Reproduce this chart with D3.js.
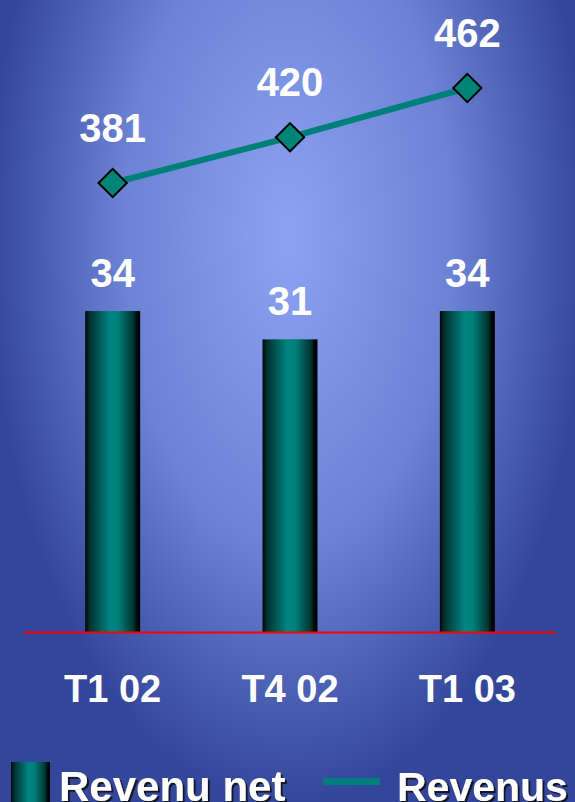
<!DOCTYPE html>
<html><head><meta charset="utf-8">
<script src="https://cdn.jsdelivr.net/npm/d3@7"></script>
<style>html,body{margin:0;padding:0;overflow:hidden;background:#34479a}</style>
</head><body>
<script>
const categories = ["T1 02", "T4 02", "T1 03"];
const netValues = [34, 31, 34];
const revenueValues = [381, 420, 462];
const legendLabels = ["Revenu net", "Revenus"];

const W = 575, H = 802;
const svg = d3.select("body").append("svg").attr("width", W).attr("height", H);
const defs = svg.append("defs");

const bg = defs.append("radialGradient").attr("id", "bg")
  .attr("gradientUnits", "userSpaceOnUse")
  .attr("cx", 288).attr("cy", 235).attr("r", 300)
  .attr("gradientTransform", "translate(288,235) scale(1,1.9) translate(-288,-235)");
bg.append("stop").attr("offset", "0%").attr("stop-color", "#8ca3f3");
bg.append("stop").attr("offset", "55%").attr("stop-color", "#6c82d4");
bg.append("stop").attr("offset", "100%").attr("stop-color", "#33469a");
svg.append("rect").attr("width", W).attr("height", H).attr("fill", "url(#bg)");

const bar = defs.append("linearGradient").attr("id", "bar").attr("x1", "0%").attr("x2", "100%");
[["0%", "#000807"], ["8%", "#02302e"], ["45%", "#008580"], ["60%", "#007f7b"], ["88%", "#013330"], ["94%", "#000a0a"], ["100%", "#000000"]]
  .forEach(([o, c]) => bar.append("stop").attr("offset", o).attr("stop-color", c));

const shadow = defs.append("filter").attr("id", "shadow").attr("x", "-5%").attr("y", "-20%").attr("width", "115%").attr("height", "150%");
shadow.append("feDropShadow").attr("dx", 2).attr("dy", 2).attr("stdDeviation", 0.4)
  .attr("flood-color", "#111").attr("flood-opacity", 0.85);

const x = d3.scaleBand().domain(categories).range([24, 556]).paddingInner(0.69).paddingOuter(0.345);
const yBar = d3.scaleLinear().domain([0, 40]).range([632, 632 - 40 * 9.44]);
const yLine = d3.scaleLinear().domain([381, 462]).range([183, 88]);
const cx = c => x(c) + x.bandwidth() / 2;

const font = "'Liberation Sans', Arial, sans-serif";

// bars
svg.selectAll("rect.bar").data(categories).enter().append("rect")
  .attr("class", "bar")
  .attr("x", d => x(d)).attr("width", x.bandwidth())
  .attr("y", (d, i) => yBar(netValues[i]))
  .attr("height", (d, i) => yBar(0) - yBar(netValues[i]))
  .attr("fill", "url(#bar)");

// baseline
svg.append("line").attr("x1", 24).attr("x2", 556).attr("y1", yBar(0) + 0.5).attr("y2", yBar(0) + 0.5)
  .attr("stroke", "#ff0000").attr("stroke-width", 2);

// bar labels
svg.selectAll("text.bl").data(categories).enter().append("text")
  .attr("x", d => cx(d)).attr("y", (d, i) => yBar(netValues[i]) - 24)
  .attr("text-anchor", "middle").attr("fill", "#fff")
  .attr("font-family", font).attr("font-weight", "bold").attr("font-size", 40)
  .text((d, i) => netValues[i]);

// line
const pts = categories.map((c, i) => [cx(c), yLine(revenueValues[i])]);
svg.append("path").attr("d", d3.line()(pts)).attr("fill", "none")
  .attr("stroke", "#00807a").attr("stroke-width", 6);
svg.selectAll("path.dia").data(pts).enter().append("path")
  .attr("d", d3.symbol().type(d3.symbolSquare).size(400))
  .attr("transform", d => `translate(${d[0]},${d[1]}) rotate(45)`)
  .attr("fill", "#008478").attr("stroke", "#000").attr("stroke-width", 2);

svg.selectAll("text.ll").data(categories).enter().append("text")
  .attr("x", d => cx(d)).attr("y", (d, i) => yLine(revenueValues[i]) - 41)
  .attr("text-anchor", "middle").attr("fill", "#fff")
  .attr("font-family", font).attr("font-weight", "bold").attr("font-size", 40)
  .text((d, i) => revenueValues[i]);

// category labels
svg.selectAll("text.cat").data(categories).enter().append("text")
  .attr("x", d => cx(d)).attr("y", 702)
  .attr("text-anchor", "middle").attr("fill", "#fff")
  .attr("font-family", font).attr("font-weight", "bold").attr("font-size", 38)
  .text(d => d);

// legend
svg.append("rect").attr("x", 11).attr("y", 762).attr("width", 39).attr("height", 45).attr("fill", "url(#bar)");
svg.append("line").attr("x1", 323).attr("x2", 380).attr("y1", 781.5).attr("y2", 781.5)
  .attr("stroke", "#00807a").attr("stroke-width", 7);
const leg = [[59, legendLabels[0], 42], [397, legendLabels[1], 41]];
leg.forEach(([lx, t, fs]) => {
  svg.append("text").attr("x", lx).attr("y", 801).attr("fill", "#fff")
    .attr("filter", "url(#shadow)")
    .attr("font-family", font).attr("font-weight", "bold").attr("font-size", fs).text(t);
});
</script>
</body></html>
